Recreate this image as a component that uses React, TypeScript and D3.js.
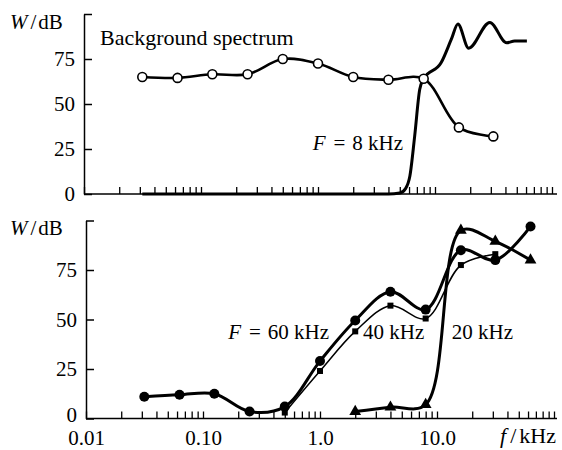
import { useRef, useEffect } from "react"
import * as d3 from "d3"

// octave band centre frequencies, kHz
const backgroundFreq = [0.0315, 0.063, 0.125, 0.25, 0.5, 1, 2, 4, 8, 16, 31.5]
const backgroundLevel = [65, 64.5, 66.5, 66.5, 75, 72.5, 65, 63.5, 64, 37, 32]

// F = 8 kHz response (no markers)
const f8Freq = [0.0315, 0.5, 2, 4, 5, 5.6, 6.1, 6.7, 7.4, 8, 11.3, 13.8, 15.7, 19.4, 29.4, 41, 48, 61]
const f8Level = [0, 0, 0, 0, 0.5, 3, 10, 32, 58, 64, 73, 86, 94.5, 81, 95.3, 84, 85, 85]

const f60Freq = [0.0315, 0.063, 0.125, 0.25, 0.5, 1, 2, 4, 8, 16, 31.5, 63]
const f60Level = [11, 12, 12.5, 3.5, 6, 29, 49.5, 64, 55, 85, 80, 97]

const f40Freq = [0.5, 1, 2, 4, 8, 16, 31.5]
const f40Level = [3, 24, 44, 57, 50.5, 77.5, 83]

const f20Freq = [2, 4, 8, 16, 31.5, 63]
const f20Level = [3.5, 5.7, 7, 95, 89.5, 80]

const yTicks = [0, 25, 50, 75, 100]
const decadeLabels = ["0.01", "0.10", "1.0", "10.0"]

const FONT = "'Liberation Serif', 'Times New Roman', 'DejaVu Serif', serif"

const App = () => {
  const svgRef = useRef<SVGSVGElement>(null)

  useEffect(() => {
    const svg = d3.select(svgRef.current)
    svg.selectAll("*").remove()

    const xTop = d3.scaleLog().domain([0.01, 100]).range([84, 552])
    const xBot = d3.scaleLog().domain([0.01, 100]).range([86, 554])
    const yTop = d3.scaleLinear().domain([0, 100]).range([194, 14])
    const yBot = d3.scaleLinear().domain([0, 100]).range([418.5, 220.5])

    // minor + decade tick positions 0.01 .. 100
    const xTickVals: number[] = []
    for (let e = -2; e < 2; e++) {
      for (let m = 1; m < 10; m++) xTickVals.push(m * Math.pow(10, e))
    }
    xTickVals.push(100)

    const g = svg.append("g")

    const drawAxes = (x, y, xEnd, withLabels) => {
      const x0 = x.range()[0]
      const xa = g
        .append("g")
        .attr("transform", `translate(0,${y(0)})`)
        .call(
          d3
            .axisBottom(x)
            .tickValues(xTickVals)
            .tickSizeInner(-7)
            .tickSizeOuter(0)
            .tickPadding(12)
            .tickFormat((d) => {
              if (!withLabels) return ""
              const i = [0.01, 0.1, 1, 10].findIndex((v) => Math.abs(v - +d) < 1e-9)
              return i >= 0 ? decadeLabels[i] : ""
            })
        )
      xa.select(".domain").remove()
      xa.selectAll("line").attr("stroke", "#000").attr("stroke-width", 1.3)
      g.append("line")
        .attr("x1", x0)
        .attr("x2", xEnd)
        .attr("y1", y(0))
        .attr("y2", y(0))
        .attr("stroke", "#000")
        .attr("stroke-width", 1.5)

      const ya = g
        .append("g")
        .attr("transform", `translate(${x0},0)`)
        .call(
          d3
            .axisLeft(y)
            .tickValues(yTicks)
            .tickSizeInner(-8)
            .tickSizeOuter(0)
            .tickPadding(9)
            .tickFormat((d) => (+d === 100 ? "" : String(d)))
        )
      ya.select(".domain").attr("stroke", "#000").attr("stroke-width", 1.5)
      ya.selectAll("line").attr("stroke", "#000").attr("stroke-width", 1.5)
      // keep the "0" clear of the x tick labels below it
      if (withLabels) ya.selectAll("text").filter((d) => +d === 0).attr("dy", "0.15em")
    }

    drawAxes(xTop, yTop, 557, false)
    drawAxes(xBot, yBot, 557, true)

    const lineOf = (x, y, curve) =>
      d3
        .line<[number, number]>()
        .x((d) => x(d[0]))
        .y((d) => y(d[1]))
        .curve(curve)

    const zip = (a: number[], b: number[]) => a.map((v, i) => [v, b[i]] as [number, number])

    // --- top panel ---
    g.append("path")
      .attr("d", lineOf(xTop, yTop, d3.curveMonotoneX)(zip(f8Freq, f8Level)))
      .attr("fill", "none")
      .attr("stroke", "#000")
      .attr("stroke-width", 3)

    const bg = zip(backgroundFreq, backgroundLevel)
    g.append("path")
      .attr("d", lineOf(xTop, yTop, d3.curveCatmullRom.alpha(0.5))(bg))
      .attr("fill", "none")
      .attr("stroke", "#000")
      .attr("stroke-width", 2.6)
    g.selectAll(".bg-pt")
      .data(bg)
      .enter()
      .append("circle")
      .attr("class", "bg-pt")
      .attr("cx", (d) => xTop(d[0]))
      .attr("cy", (d) => yTop(d[1]))
      .attr("r", 4.5)
      .attr("fill", "#fff")
      .attr("stroke", "#000")
      .attr("stroke-width", 1.6)

    // --- bottom panel ---
    const s60 = zip(f60Freq, f60Level)
    const s40 = zip(f40Freq, f40Level)
    const s20 = zip(f20Freq, f20Level)
    const curve = d3.curveCatmullRom.alpha(0.5)

    g.append("path")
      .attr("d", lineOf(xBot, yBot, curve)(s40))
      .attr("fill", "none")
      .attr("stroke", "#000")
      .attr("stroke-width", 1.5)
    g.append("path")
      .attr("d", lineOf(xBot, yBot, curve)(s60))
      .attr("fill", "none")
      .attr("stroke", "#000")
      .attr("stroke-width", 3)
    g.append("path")
      .attr("d", lineOf(xBot, yBot, curve)(s20))
      .attr("fill", "none")
      .attr("stroke", "#000")
      .attr("stroke-width", 3)

    g.selectAll(".p60")
      .data(s60)
      .enter()
      .append("circle")
      .attr("cx", (d) => xBot(d[0]))
      .attr("cy", (d) => yBot(d[1]))
      .attr("r", 5)
      .attr("fill", "#000")
    g.selectAll(".p40")
      .data(s40)
      .enter()
      .append("rect")
      .attr("x", (d) => xBot(d[0]) - 3)
      .attr("y", (d) => yBot(d[1]) - 3)
      .attr("width", 6)
      .attr("height", 6)
      .attr("fill", "#000")
    g.selectAll(".p20")
      .data(s20)
      .enter()
      .append("path")
      .attr("d", d3.symbol().type(d3.symbolTriangle).size(60)())
      .attr("transform", (d) => `translate(${xBot(d[0])},${yBot(d[1])})`)
      .attr("fill", "#000")

    // --- text ---
    svg.selectAll("text").style("font-size", "21px")

    const wLabel = (yBase) => {
      const t = g.append("text").attr("x", 10).attr("y", yBase).style("font-size", "21px")
      t.append("tspan").style("font-style", "italic").text("W")
      t.append("tspan").attr("dx", 3).text("/")
      t.append("tspan").attr("dx", 2).text("dB")
    }
    wLabel(29)
    wLabel(235)

    g.append("text").attr("x", 100).attr("y", 45).style("font-size", "22px").text("Background spectrum")

    const fLabel = (x, yBase, value) => {
      const t = g.append("text").attr("x", x).attr("y", yBase).style("font-size", "21px")
      t.append("tspan").style("font-style", "italic").text("F")
      t.append("tspan").attr("dx", 8).text("=")
      t.append("tspan").attr("dx", 7).text(value)
    }
    fLabel(xTop(0.9), 150, "8 kHz")
    fLabel(xBot(0.164), yBot(40), "60 kHz")
    g.append("text").attr("x", xBot(2.33)).attr("y", yBot(40)).style("font-size", "21px").text("40 kHz")
    g.append("text").attr("x", xBot(13.4)).attr("y", yBot(40)).style("font-size", "21px").text("20 kHz")

    const fk = g.append("text").attr("x", 500).attr("y", 443).style("font-size", "22px")
    fk.append("tspan").style("font-style", "italic").text("f")
    fk.append("tspan").attr("dx", 4).text("/")
    fk.append("tspan").attr("dx", 3).text("kHz")

    // one font family for every label, axis text included
    svg.selectAll("text").attr("fill", "#000").style("font-family", FONT)
  }, [])

  return (
    <svg
      ref={svgRef}
      width={562}
      height={450}
      style={{ position: "absolute", left: 0, top: 0, background: "#fff", fontFamily: FONT }}
    />
  )
}

export default App
